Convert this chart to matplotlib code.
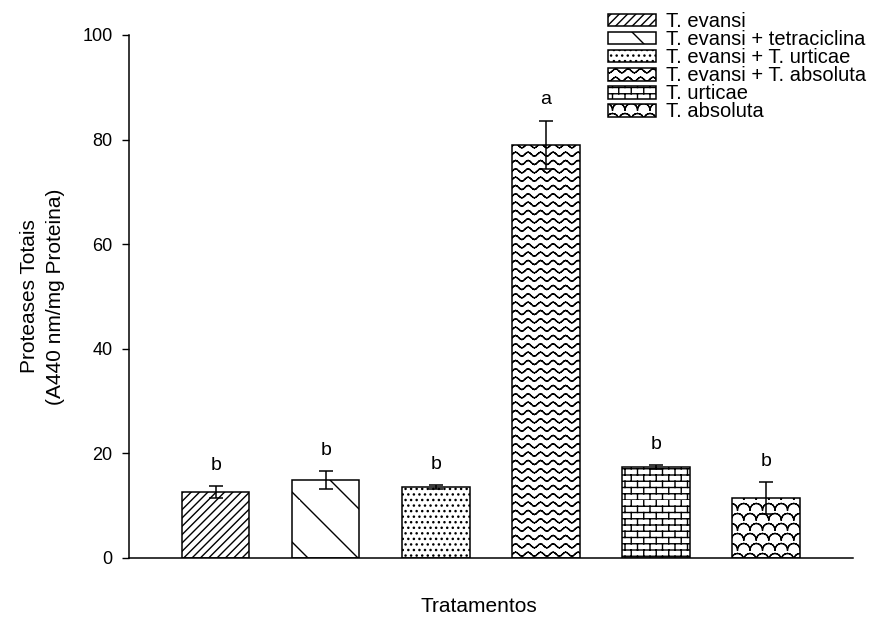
import warnings
import numpy as np
import matplotlib
matplotlib.use("Agg")
import matplotlib.pyplot as plt
import matplotlib.hatch as mhatch
from matplotlib.path import Path

warnings.filterwarnings("ignore", category=matplotlib.MatplotlibDeprecationWarning)

groups = ["T. evansi", "T. evansi + tetraciclina", "T. evansi + T. urticae",
          "T. evansi + T. absoluta", "T. urticae", "T. absoluta"]
means = [12.6, 14.9, 13.5, 79.0, 17.4, 11.5]
errors = [1.1, 1.7, 0.4, 4.6, 0.4, 3.0]
letters = ["b", "b", "b", "a", "b", "b"]
hatches = ["////", "k", "...", "w", "B", "z"]
yticks = [0, 20, 40, 60, 80, 100]


def as_segments(lines):
    # split polylines into separate 2-point pieces so Agg doesn't fill them
    segs = []
    for pts in lines:
        pts = np.asarray(pts, float)
        for a, b in zip(pts[:-1], pts[1:]):
            segs.append(a)
            segs.append(b)
    return np.array(segs)


class CustomHatch(mhatch.HatchPatternBase):
    key = None

    def __init__(self, hatch, density):
        self.segs = as_segments(self.lines()) if self.key in hatch else np.empty((0, 2))
        self.num_vertices = len(self.segs)

    def set_vertices_and_codes(self, vertices, codes):
        vertices[:] = self.segs
        codes[0::2] = Path.MOVETO
        codes[1::2] = Path.LINETO


class SparseBackslash(CustomHatch):
    key = 'k'

    def lines(self):
        return [[(s, 1.0), (s + 1.0, 0.0)] for s in np.arange(-1.0, 1.0, 0.5)]


class WaveHatch(CustomHatch):
    key = 'w'

    def lines(self):
        x = np.linspace(0, 1, 8 * 8 + 1)
        return [np.column_stack([x, (j + 0.5) / 12 + 0.02 * np.sin(2 * np.pi * 8 * x)])
                for j in range(12)]


class BrickHatch(CustomHatch):
    key = 'B'

    def lines(self):
        rows, cols = 16, 8
        out = []
        for j in range(rows):
            y0, y1 = j / rows, (j + 1) / rows
            out.append([(0, y0), (1, y0)])
            for i in range(cols):
                xv = (i + 0.5 * (j % 2)) / cols
                out.append([(xv, y0), (xv, y1)])
        return out


class ScaleHatch(CustomHatch):
    key = 'z'

    def lines(self):
        rows, cols = 10, 8
        t = np.linspace(np.pi, 0, 9)
        rx, ry = 0.5 / cols, 0.65 / rows
        out = []
        for j in range(rows):
            for i in range(cols + (1 if j % 2 == 0 else 0)):
                cx = (i + 0.5 * (j % 2)) / cols
                out.append(np.column_stack([cx + rx * np.cos(t), j / rows + ry * np.sin(t)]))
        return out


mhatch._hatch_types.extend([SparseBackslash, WaveHatch, BrickHatch, ScaleHatch])

plt.rcParams['font.family'] = ['Liberation Sans', 'DejaVu Sans']
plt.rcParams['hatch.linewidth'] = 1.0

fig = plt.figure(figsize=(8.75, 6.21), dpi=100)
ax = fig.add_axes([0.1474, 0.10145, 0.8274, 0.8422])

x = np.arange(len(groups))
bars = []
for xi, m, h in zip(x, means, hatches):
    b = ax.bar(xi, m, width=0.61, color='white', edgecolor='black',
               linewidth=1.1, hatch=h, zorder=2)
    bars.append(b[0])

ax.errorbar(x, means, yerr=errors, fmt='none', ecolor='black', elinewidth=1.1,
            capsize=5, capthick=1.1, zorder=3)

for xi, m, e, s in zip(x, means, errors, letters):
    ax.annotate(s, (xi, m + e), xytext=(0, 15), textcoords='offset points',
                ha='center', va='center', fontsize=14)

ax.set_xlim(-0.79, 5.79)
ax.set_ylim(0, 100)
ax.set_yticks(yticks)
ax.set_xticks([])
ax.tick_params(axis='y', direction='out', length=4.8, width=1, pad=7, labelsize=13)
for side in ['top', 'right']:
    ax.spines[side].set_visible(False)
for side in ['left', 'bottom']:
    ax.spines[side].set_linewidth(1.1)

ax.set_ylabel("Proteases Totais\n(A440 nm/mg Proteina)", fontsize=15, linespacing=1.45)
ax.yaxis.set_label_coords(-0.0884, 0.5)
ax.set_xlabel("Tratamentos", fontsize=15)
ax.xaxis.set_label_coords(0.4834, -0.0746)

ax.legend(bars, groups, loc='upper left', bbox_to_anchor=(608 / 875, 1 - 12 / 621),
          bbox_transform=fig.transFigure, frameon=False, borderpad=0, borderaxespad=0,
          handlelength=2.39, handleheight=0.6, handletextpad=0.5, labelspacing=-0.045,
          fontsize=14.5)

fig.savefig("out.png", dpi=100)
